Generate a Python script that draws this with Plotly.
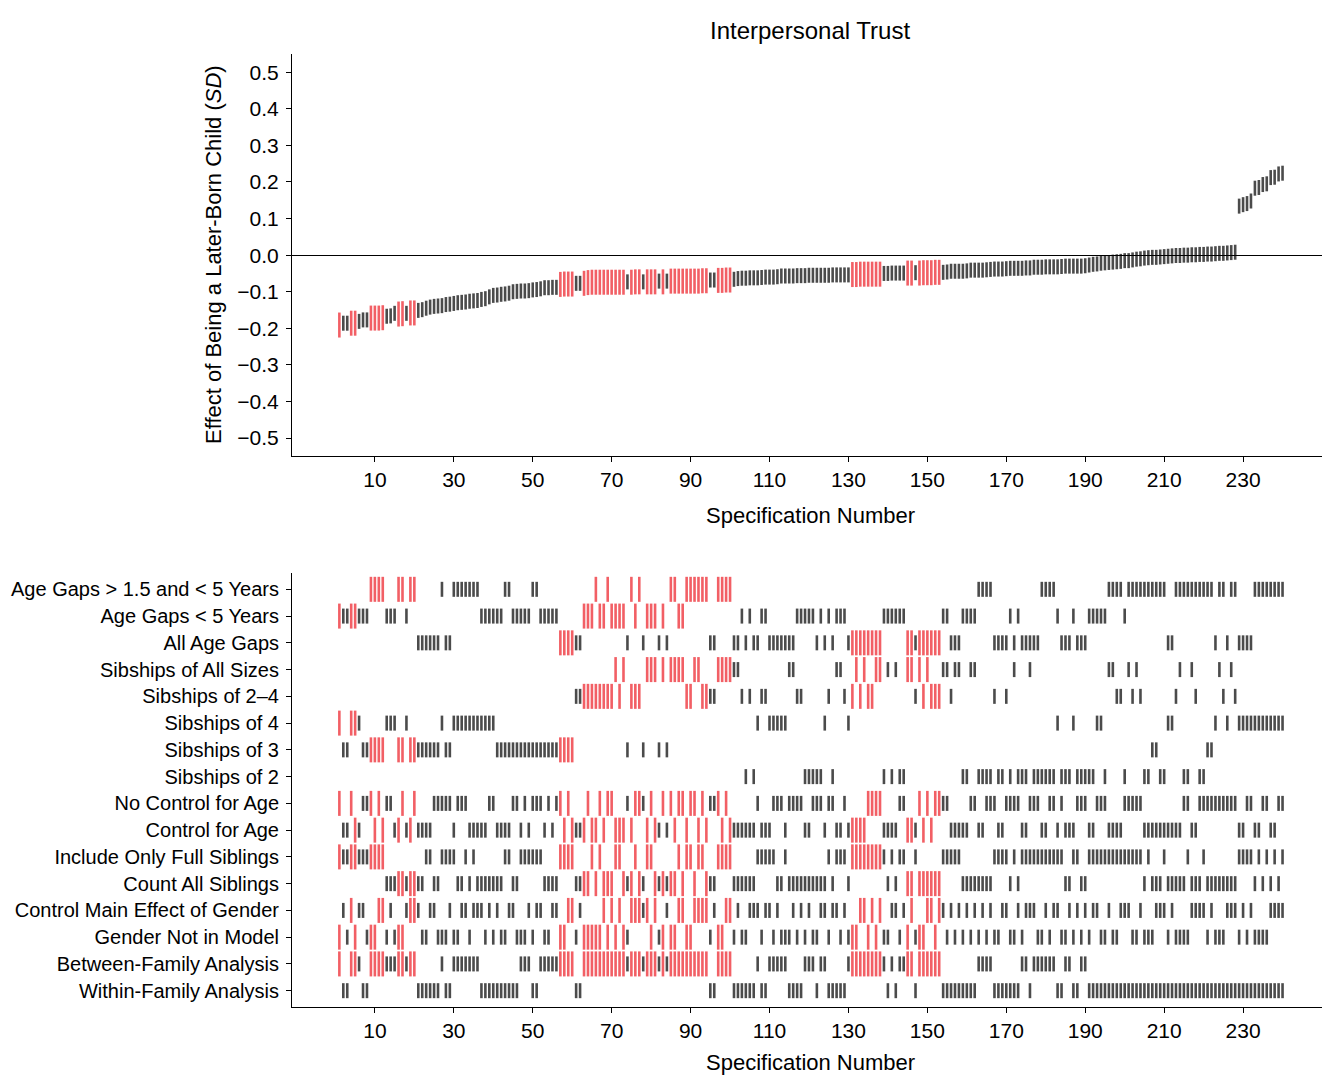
import plotly.graph_objects as go

# ---------------- data ----------------
spec_number = list(range(1, 241))

estimate = [
    -0.191, -0.186, -0.186, -0.186, -0.186, -0.181, -0.177, -0.177, -0.172, -0.172,
    -0.172, -0.171, -0.167, -0.166, -0.159, -0.161, -0.160, -0.159, -0.158, -0.158,
    -0.151, -0.149, -0.145, -0.142, -0.140, -0.139, -0.138, -0.135, -0.134, -0.132,
    -0.130, -0.129, -0.128, -0.126, -0.125, -0.124, -0.121, -0.119, -0.114, -0.110,
    -0.109, -0.107, -0.106, -0.104, -0.100, -0.099, -0.098, -0.098, -0.097, -0.095,
    -0.094, -0.092, -0.089, -0.089, -0.088, -0.088, -0.080, -0.079, -0.079, -0.079,
    -0.077, -0.077, -0.077, -0.075, -0.074, -0.074, -0.074, -0.074, -0.074, -0.074,
    -0.074, -0.074, -0.074, -0.073, -0.074, -0.073, -0.073, -0.073, -0.073, -0.073,
    -0.073, -0.071, -0.073, -0.071, -0.071, -0.071, -0.071, -0.071, -0.071, -0.071,
    -0.071, -0.071, -0.070, -0.070, -0.068, -0.068, -0.069, -0.069, -0.068, -0.068,
    -0.066, -0.064, -0.063, -0.063, -0.062, -0.062, -0.062, -0.061, -0.060, -0.060,
    -0.060, -0.059, -0.057, -0.057, -0.057, -0.057, -0.056, -0.056, -0.056, -0.055,
    -0.055, -0.055, -0.055, -0.055, -0.055, -0.054, -0.054, -0.054, -0.054, -0.054,
    -0.053, -0.053, -0.052, -0.052, -0.052, -0.052, -0.052, -0.052, -0.050, -0.050,
    -0.049, -0.049, -0.049, -0.049, -0.049, -0.049, -0.048, -0.049, -0.048, -0.048,
    -0.048, -0.047, -0.047, -0.047, -0.046, -0.044, -0.044, -0.044, -0.044, -0.043,
    -0.041, -0.041, -0.041, -0.041, -0.040, -0.039, -0.038, -0.038, -0.038, -0.037,
    -0.036, -0.036, -0.036, -0.036, -0.035, -0.035, -0.033, -0.033, -0.033, -0.032,
    -0.032, -0.032, -0.032, -0.031, -0.030, -0.030, -0.030, -0.030, -0.030, -0.029,
    -0.027, -0.025, -0.024, -0.022, -0.021, -0.020, -0.019, -0.018, -0.017, -0.015,
    -0.015, -0.013, -0.011, -0.010, -0.008, -0.007, -0.006, -0.006, -0.005, -0.004,
    -0.003, -0.002, -0.001, -0.001, 0.000, 0.000, 0.001, 0.001, 0.002, 0.002,
    0.003, 0.003, 0.004, 0.005, 0.005, 0.006, 0.007, 0.008, 0.134, 0.138,
    0.141, 0.148, 0.183, 0.185, 0.193, 0.195, 0.212, 0.213, 0.222, 0.224,
]

significant_specs = [
    1, 4, 5, 9, 10, 11, 12, 16, 17, 19, 20, 57, 58, 59, 60,
    63, 64, 65, 66, 67, 68, 69, 70, 71, 72, 73, 75, 76, 77, 79, 80, 81, 83,
    85, 86, 87, 88, 89, 90, 91, 92, 93, 94, 97, 98, 99, 100,
    131, 132, 133, 134, 135, 136, 137, 138, 145, 146, 148, 149, 150, 151, 152, 153,
]

row_labels = [
    "Age Gaps &gt; 1.5 and &lt; 5 Years",
    "Age Gaps &lt; 5 Years",
    "All Age Gaps",
    "Sibships of All Sizes",
    "Sibships of 2\u20134",
    "Sibships of 4",
    "Sibships of 3",
    "Sibships of 2",
    "No Control for Age",
    "Control for Age",
    "Include Only Full Siblings",
    "Count All Siblings",
    "Control Main Effect of Gender",
    "Gender Not in Model",
    "Between-Family Analysis",
    "Within-Family Analysis",
]

age_gaps_15_to_5 = [9, 10, 11, 12, 16, 17, 19, 20, 27, 30, 31, 32, 33, 34, 35, 36, 43, 44, 50, 51,
                    66, 69, 75, 77, 85, 86, 89, 90, 91, 92, 93, 94, 97, 98, 99, 100, 163, 164, 165, 166,
                    179, 180, 181, 182, 196, 197, 198, 199, 201, 202, 203, 204, 205, 206, 207, 208, 209, 210,
                    213, 214, 215, 216, 217, 218, 219, 220, 221, 222, 224, 225, 227, 228,
                    233, 234, 235, 236, 237, 238, 239, 240]
age_gaps_under_5 = [1, 2, 3, 4, 5, 6, 7, 8, 13, 14, 15, 18, 37, 38, 39, 40, 41, 42, 45, 46, 47, 48, 49,
                    52, 53, 54, 55, 56, 63, 64, 65, 67, 68, 70, 71, 72, 73, 76, 79, 80, 81, 83, 87, 88,
                    103, 105, 108, 109, 117, 118, 119, 120, 121, 123, 125, 127, 128, 129, 139, 140, 141, 142,
                    143, 144, 154, 155, 159, 160, 161, 162, 171, 173, 183, 187, 191, 192, 193, 194, 195, 200]
age_gaps_all = [21, 22, 23, 24, 25, 26, 28, 29, 57, 58, 59, 60, 61, 62, 74, 78, 82, 84, 95, 96,
                101, 102, 104, 106, 107, 110, 111, 112, 113, 114, 115, 116, 122, 124, 126, 130, 131, 132,
                133, 134, 135, 136, 137, 138, 145, 146, 147, 148, 149, 150, 151, 152, 153, 156, 157, 158,
                167, 168, 169, 170, 172, 174, 175, 176, 177, 178, 184, 185, 186, 188, 189, 190,
                211, 212, 223, 226, 229, 230, 231, 232]
sibships_all_sizes = [71, 73, 79, 80, 81, 83, 85, 86, 87, 88, 91, 92, 97, 98, 99, 100, 101, 102, 115, 116,
                      127, 128, 132, 134, 137, 138, 140, 142, 145, 146, 148, 150, 154, 155, 157, 158, 161, 162,
                      172, 176, 196, 197, 201, 203, 214, 217, 224, 227]
sibships_2_to_4 = [61, 62, 63, 64, 65, 66, 67, 68, 69, 70, 72, 75, 76, 77, 89, 90, 93, 94, 95, 96,
                   103, 105, 108, 109, 117, 118, 125, 129, 131, 133, 135, 136, 147, 149, 151, 152, 153, 156,
                   167, 170, 198, 199, 202, 204, 213, 218, 225, 228]
sibships_4 = [1, 4, 5, 6, 13, 14, 15, 18, 27, 30, 31, 32, 33, 34, 35, 36, 37, 38, 39, 40,
              107, 110, 111, 112, 113, 114, 124, 130, 183, 187, 193, 194, 211, 212, 223, 226,
              229, 230, 231, 232, 233, 234, 235, 236, 237, 238, 239, 240]
sibships_3 = [2, 3, 7, 8, 9, 10, 11, 12, 16, 17, 19, 20, 21, 22, 23, 24, 25, 26, 28, 29,
              41, 42, 43, 44, 45, 46, 47, 48, 49, 50, 51, 52, 53, 54, 55, 56, 57, 58, 59, 60,
              74, 78, 82, 84, 207, 208, 221, 222]
sibships_2 = [104, 106, 119, 120, 121, 122, 123, 126, 139, 141, 143, 144, 159, 160, 163, 164, 165, 166,
              168, 169, 171, 173, 174, 175, 177, 178, 179, 180, 181, 182, 184, 185, 186, 188, 189, 190,
              191, 192, 195, 200, 205, 206, 209, 210, 215, 216, 219, 220]
no_control_age = [1, 4, 7, 8, 9, 11, 13, 14, 17, 20, 25, 26, 27, 28, 29, 31, 32, 33, 39, 40, 45, 46, 48,
                  50, 51, 52, 54, 56, 57, 59, 64, 67, 69, 70, 74, 76, 77, 78, 80, 83, 85, 87, 88, 90, 91, 93,
                  95, 96, 97, 99, 107, 111, 112, 113, 115, 116, 117, 118, 121, 122, 123, 125, 126, 129,
                  135, 136, 137, 138, 143, 144, 148, 150, 152, 153, 154, 155, 161, 162, 165, 166, 167, 170,
                  171, 172, 173, 176, 177, 178, 181, 182, 184, 188, 189, 190, 193, 194, 195, 200, 201, 202,
                  203, 204, 215, 216, 219, 220, 221, 222, 223, 224, 225, 226, 227, 228, 231, 232, 235, 236,
                  239, 240]
control_age = [2, 3, 5, 6, 10, 12, 15, 16, 18, 19, 21, 22, 23, 24, 30, 34, 35, 36, 37, 38, 41, 42, 43, 44,
               47, 49, 53, 55, 58, 60, 61, 62, 63, 65, 66, 68, 71, 72, 73, 75, 79, 81, 82, 84, 86, 89, 92,
               94, 98, 100, 101, 102, 103, 104, 105, 106, 108, 109, 110, 114, 119, 120, 124, 127, 128,
               130, 131, 132, 133, 134, 139, 140, 141, 142, 145, 146, 147, 149, 151, 156, 157, 158, 159,
               160, 163, 164, 168, 169, 174, 175, 179, 180, 183, 185, 186, 187, 191, 192, 196, 197, 198,
               199, 205, 206, 207, 208, 209, 210, 211, 212, 213, 214, 217, 218, 229, 230, 233, 234, 237, 238]
full_siblings = [1, 2, 3, 4, 5, 6, 7, 8, 9, 10, 11, 12, 23, 24, 27, 28, 29, 30, 33, 35, 43, 44, 47, 48,
                 49, 50, 51, 52, 57, 58, 59, 60, 65, 67, 71, 72, 76, 79, 80, 87, 89, 90, 92, 93, 97, 98,
                 99, 100, 107, 108, 109, 110, 111, 114, 125, 127, 128, 129, 131, 132, 133, 134, 135, 136,
                 137, 138, 139, 141, 143, 144, 147, 154, 155, 156, 157, 158, 167, 168, 169, 170, 172, 174,
                 175, 176, 177, 178, 179, 180, 181, 182, 183, 184, 187, 188, 191, 192, 193, 194, 195, 196,
                 197, 198, 199, 200, 201, 202, 203, 204, 206, 210, 216, 220, 229, 230, 231, 232, 234, 236,
                 238, 240]
all_siblings = [13, 14, 15, 16, 17, 18, 19, 20, 21, 22, 25, 26, 31, 32, 34, 36, 37, 38, 39, 40, 41, 42,
                45, 46, 53, 54, 55, 56, 61, 62, 63, 64, 66, 68, 69, 70, 73, 74, 75, 77, 78, 81, 82, 83, 84,
                85, 86, 88, 91, 94, 95, 96, 101, 102, 103, 104, 105, 106, 112, 113, 115, 116, 117, 118, 119,
                120, 121, 122, 123, 124, 126, 130, 140, 142, 145, 146, 148, 149, 150, 151, 152, 153, 159,
                160, 161, 162, 163, 164, 165, 166, 171, 173, 185, 186, 189, 190, 205, 207, 208, 209, 211,
                212, 213, 214, 215, 217, 218, 219, 221, 222, 223, 224, 225, 226, 227, 228, 233, 235, 237, 239]
gender_control = [2, 4, 6, 7, 11, 12, 14, 18, 19, 20, 21, 24, 25, 29, 32, 33, 35, 36, 37, 39, 41, 44, 45,
                  49, 51, 52, 55, 56, 59, 60, 62, 68, 70, 72, 75, 76, 77, 78, 79, 81, 84, 87, 88, 91, 92, 93,
                  94, 96, 99, 100, 102, 105, 106, 107, 109, 110, 112, 116, 118, 120, 123, 124, 126, 127, 129,
                  133, 134, 136, 138, 141, 142, 144, 146, 150, 151, 153, 154, 156, 158, 160, 162, 164, 166,
                  169, 170, 173, 175, 176, 177, 180, 182, 183, 186, 188, 190, 192, 193, 196, 199, 200, 201,
                  204, 208, 209, 210, 212, 217, 218, 219, 220, 222, 226, 227, 228, 230, 232, 237, 238, 239, 240]
gender_not_in_model = [1, 3, 5, 8, 9, 10, 13, 15, 16, 17, 22, 23, 26, 27, 28, 30, 31, 34, 38, 40, 42, 43,
                       46, 47, 48, 50, 53, 54, 57, 58, 61, 63, 64, 65, 66, 67, 69, 71, 73, 74, 80, 82, 83, 85,
                       86, 89, 90, 95, 97, 98, 101, 103, 104, 108, 111, 113, 114, 115, 117, 119, 121, 122,
                       125, 128, 130, 131, 132, 135, 137, 139, 140, 143, 145, 147, 148, 149, 152, 155, 157,
                       159, 161, 163, 165, 167, 168, 171, 172, 174, 178, 179, 181, 184, 185, 187, 189, 191,
                       194, 195, 197, 198, 202, 203, 205, 206, 207, 211, 213, 214, 215, 216, 221, 223, 224,
                       225, 229, 231, 233, 234, 235, 236]
between_family = [1, 4, 5, 6, 9, 10, 11, 12, 13, 14, 15, 16, 17, 18, 19, 20, 27, 30, 31, 32, 33, 34, 35,
                  36, 47, 48, 49, 52, 53, 54, 55, 56, 57, 58, 59, 60, 63, 64, 65, 66, 67, 68, 69, 70, 71, 72,
                  73, 74, 75, 76, 77, 78, 79, 80, 81, 82, 83, 84, 85, 86, 87, 88, 89, 90, 91, 92, 93, 94, 97,
                  98, 99, 100, 107, 110, 111, 112, 113, 114, 119, 120, 121, 123, 124, 130, 131, 132, 133,
                  134, 135, 136, 137, 138, 139, 141, 143, 144, 145, 146, 148, 149, 150, 151, 152, 153, 163,
                  164, 165, 166, 174, 175, 177, 178, 179, 180, 181, 182, 185, 186, 189, 190]
within_family = [2, 3, 7, 8, 21, 22, 23, 24, 25, 26, 28, 29, 37, 38, 39, 40, 41, 42, 43, 44, 45, 46, 50,
                 51, 61, 62, 95, 96, 101, 102, 103, 104, 105, 106, 108, 109, 115, 116, 117, 118, 122, 125,
                 126, 127, 128, 129, 140, 142, 147, 154, 155, 156, 157, 158, 159, 160, 161, 162, 167, 168,
                 169, 170, 171, 172, 173, 176, 183, 184, 187, 188, 191, 192, 193, 194, 195, 196, 197, 198,
                 199, 200, 201, 202, 203, 204, 205, 206, 207, 208, 209, 210, 211, 212, 213, 214, 215, 216,
                 217, 218, 219, 220, 221, 222, 223, 224, 225, 226, 227, 228, 229, 230, 231, 232, 233, 234,
                 235, 236, 237, 238, 239, 240]

row_specs = [age_gaps_15_to_5, age_gaps_under_5, age_gaps_all, sibships_all_sizes, sibships_2_to_4,
             sibships_4, sibships_3, sibships_2, no_control_age, control_age, full_siblings, all_siblings,
             gender_control, gender_not_in_model, between_family, within_family]

x_ticks = [10, 30, 50, 70, 90, 110, 130, 150, 170, 190, 210, 230]
y_ticks = [-0.5, -0.4, -0.3, -0.2, -0.1, 0.0, 0.1, 0.2, 0.3, 0.4, 0.5]

# ---------------- style ----------------
RED = "#ED1C24"
BLACK = "#000000"
FONT = "Liberation Sans, Arial, Helvetica, sans-serif"
W, H = 1322, 1075
BAR_SIG = 25 / 1.4      # plotly's line-ns symbol is 1.4 x size long
BAR_NS = 15 / 1.4
BAR_W = 2.6
sig = set(significant_specs)


def style(s):
    return (RED if s in sig else BLACK), (BAR_SIG if s in sig else BAR_NS)


fig = go.Figure()

# top: specification curve
cols, sizes = zip(*[style(s) for s in spec_number])
fig.add_trace(go.Scatter(
    x=spec_number, y=estimate, mode="markers", xaxis="x", yaxis="y",
    marker=dict(symbol="line-ns", size=list(sizes), color=list(cols),
                line=dict(color=list(cols), width=BAR_W)),
    showlegend=False, hoverinfo="x+y"))

# bottom: specification indicators
for i, specs in enumerate(row_specs):
    c, s = zip(*[style(v) for v in specs])
    fig.add_trace(go.Scatter(
        x=specs, y=[i + 1] * len(specs), mode="markers", xaxis="x2", yaxis="y2",
        marker=dict(symbol="line-ns", size=list(s), color=list(c),
                    line=dict(color=list(c), width=BAR_W)),
        showlegend=False, hoverinfo="x"))

x0 = 292 / W
top_dom = [1 - 456 / H, 1 - 54.3 / H]
bot_dom = [1 - 1007 / H, 1 - 573 / H]
xrange = [-11, 250]


def axis_common(size=21):
    return dict(showline=True, linecolor=BLACK, linewidth=1, ticks="outside", ticklen=5,
                tickwidth=1, tickcolor=BLACK, showgrid=False,
                tickfont=dict(family=FONT, size=size, color=BLACK))


fig.update_layout(
    width=W, height=H, margin=dict(l=0, r=0, t=0, b=0, autoexpand=False),
    paper_bgcolor="white", plot_bgcolor="white",
    font=dict(family=FONT, size=21, color=BLACK),
    xaxis=dict(domain=[x0, 1], range=xrange, anchor="y", tickvals=x_ticks, zeroline=False,
               **axis_common()),
    yaxis=dict(domain=top_dom, range=[-0.549, 0.549], anchor="x", tickvals=y_ticks, tickformat=".1f",
               zeroline=True, zerolinecolor=BLACK, zerolinewidth=1, ticklabelstandoff=3,
               **axis_common()),
    xaxis2=dict(domain=[x0, 1], range=xrange, anchor="y2", tickvals=x_ticks, zeroline=False,
                **axis_common()),
    yaxis2=dict(domain=bot_dom, range=[16.61, 0.39], anchor="x2", tickvals=list(range(1, 17)),
                ticktext=row_labels, zeroline=False, ticklabelstandoff=3, **axis_common(20)),
    annotations=[
        dict(text="Interpersonal Trust", xref="paper", yref="paper", x=810 / W, y=1 - 30 / H,
             xanchor="center", yanchor="middle", showarrow=False, font=dict(family=FONT, size=24)),
        dict(text="Specification Number", xref="paper", yref="paper", x=810 / W, y=1 - 515 / H,
             xanchor="center", yanchor="middle", showarrow=False, font=dict(family=FONT, size=22)),
        dict(text="Specification Number", xref="paper", yref="paper", x=810 / W, y=1 - 1062 / H,
             xanchor="center", yanchor="middle", showarrow=False, font=dict(family=FONT, size=22)),
        dict(text="Effect of Being a Later-Born Child (<i>SD</i>)", xref="paper", yref="paper",
             x=213 / W, y=1 - 255 / H, xanchor="center", yanchor="middle", textangle=-90,
             showarrow=False, font=dict(family=FONT, size=22)),
    ],
)

fig.write_html("out.html")
